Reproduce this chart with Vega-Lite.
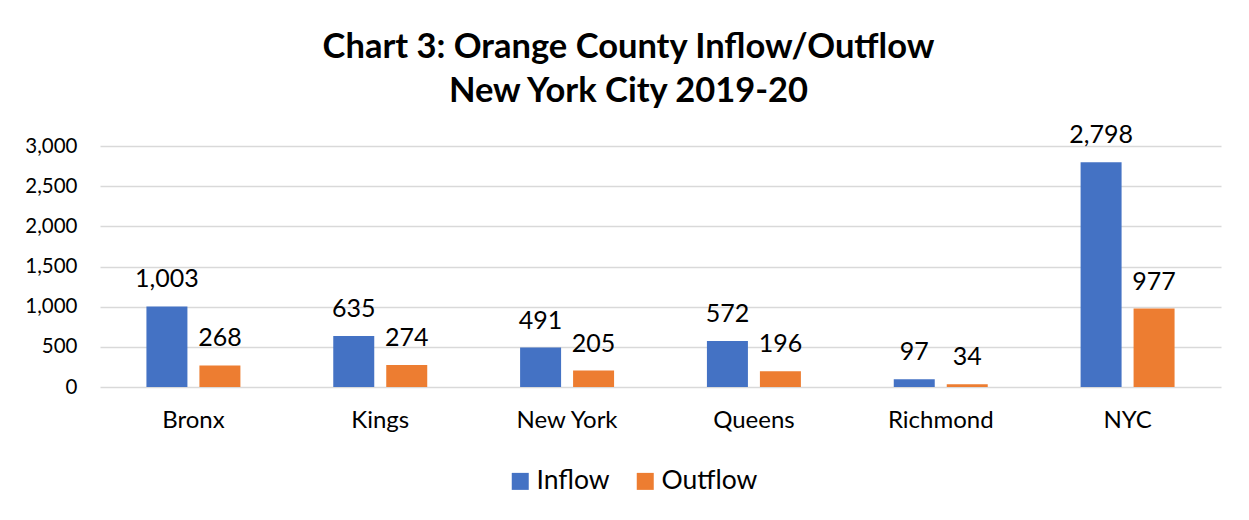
{
  "$schema": "https://vega.github.io/schema/vega-lite/v6.json",
  "width": 1121,
  "height": 241,
  "autosize": {"type": "none"},
  "padding": {"left": 100, "top": 146, "right": 28, "bottom": 133},
  "background": "white",
  "config": {"font": "Lato", "view": {"stroke": null}},
  "title": {
    "text": ["Chart 3: Orange County Inflow/Outflow", "New York City 2019-20"],
    "fontSize": 34.5,
    "fontWeight": "bold",
    "font": "Lato",
    "color": "#000000",
    "anchor": "middle",
    "dx": -32,
    "offset": 14,
    "lineHeight": 44
  },
  "data": {
    "values": [
      {"county": "Bronx", "series": "Inflow", "value": 1003},
      {"county": "Bronx", "series": "Outflow", "value": 268},
      {"county": "Kings", "series": "Inflow", "value": 635},
      {"county": "Kings", "series": "Outflow", "value": 274},
      {"county": "New York", "series": "Inflow", "value": 491},
      {"county": "New York", "series": "Outflow", "value": 205},
      {"county": "Queens", "series": "Inflow", "value": 572},
      {"county": "Queens", "series": "Outflow", "value": 196},
      {"county": "Richmond", "series": "Inflow", "value": 97},
      {"county": "Richmond", "series": "Outflow", "value": 34},
      {"county": "NYC", "series": "Inflow", "value": 2798},
      {"county": "NYC", "series": "Outflow", "value": 977}
    ]
  },
  "encoding": {
    "x": {
      "field": "county",
      "type": "nominal",
      "sort": ["Bronx", "Kings", "New York", "Queens", "Richmond", "NYC"],
      "scale": {"paddingInner": 0.497, "paddingOuter": 0.2485},
      "axis": {
        "title": null,
        "labelAngle": 0,
        "domain": false,
        "ticks": false,
        "grid": false,
        "labelFontSize": 24,
        "labelColor": "#000000",
        "labelPadding": 21
      }
    },
    "xOffset": {
      "field": "series",
      "type": "nominal",
      "scale": {"paddingInner": 0.2264, "paddingOuter": 0}
    },
    "y": {
      "field": "value",
      "type": "quantitative",
      "scale": {"domain": [0, 3000]},
      "axis": {
        "title": null,
        "values": [0, 500, 1000, 1500, 2000, 2500, 3000],
        "format": ",.0f",
        "domain": false,
        "ticks": false,
        "labelFontSize": 20.5,
        "labelColor": "#000000",
        "labelPadding": 23,
        "gridColor": "#D9D9D9",
        "gridWidth": 1.5
      }
    }
  },
  "layer": [
    {
      "mark": {"type": "bar"},
      "encoding": {
        "color": {
          "field": "series",
          "type": "nominal",
          "scale": {"domain": ["Inflow", "Outflow"], "range": ["#4472C4", "#ED7D31"]},
          "legend": {
            "title": null,
            "orient": "none",
            "legendX": 407,
            "legendY": 322,
            "direction": "horizontal",
            "symbolType": "square",
            "symbolSize": 289,
            "symbolStrokeWidth": 0,
            "symbolOpacity": 1,
            "labelFontSize": 26.5,
            "labelColor": "#000000",
            "labelOffset": 3,
            "columnPadding": 22
          }
        }
      }
    },
    {
      "mark": {"type": "text", "baseline": "alphabetic", "dy": -19, "fontSize": 25, "color": "#000000"},
      "encoding": {
        "text": {"field": "value", "type": "quantitative", "format": ","}
      }
    }
  ]
}
